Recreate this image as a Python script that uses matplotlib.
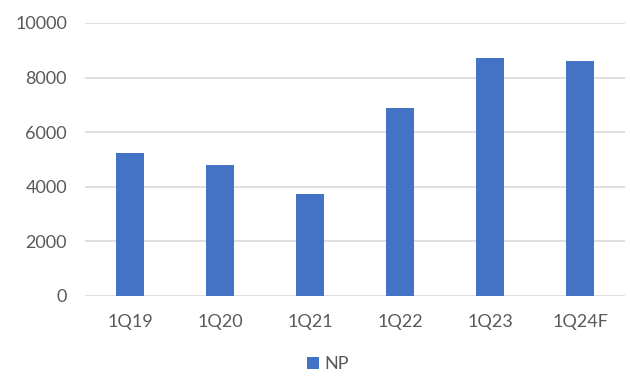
import matplotlib.pyplot as plt
import numpy as np

quarters = ["1Q19", "1Q20", "1Q21", "1Q22", "1Q23", "1Q24F"]
np_values = [5230, 4810, 3735, 6890, 8725, 8605]

plt.rcParams['font.family'] = ['Lato', 'DejaVu Sans']

fig = plt.figure(figsize=(6.3, 3.83), dpi=100)
ax = fig.add_axes([0.135, 0.228, 0.857, 0.712])

x = np.arange(len(quarters))
ax.bar(x, np_values, width=0.31, color="#4472C4", label="NP", zorder=3)

ax.set_xlim(-0.5, len(quarters) - 0.5)
ax.set_ylim(0, 10000)
ax.set_yticks(range(0, 10001, 2000))
ax.set_xticks(x)
ax.set_xticklabels(quarters)
ax.yaxis.grid(True, color="#d9d9d9", linewidth=1.2, zorder=0)
for s in ax.spines.values():
    s.set_visible(False)
ax.tick_params(axis="both", length=0, labelsize=13, labelcolor="#595959")
ax.tick_params(axis="y", pad=13)
ax.tick_params(axis="x", pad=13)

fig.legend(loc="lower center", bbox_to_anchor=(0.52, -0.015), frameon=False,
           fontsize=13, labelcolor="#595959", handlelength=0.65, handleheight=0.65,
           handletextpad=0.3)

plt.savefig("out.png", dpi=100)
